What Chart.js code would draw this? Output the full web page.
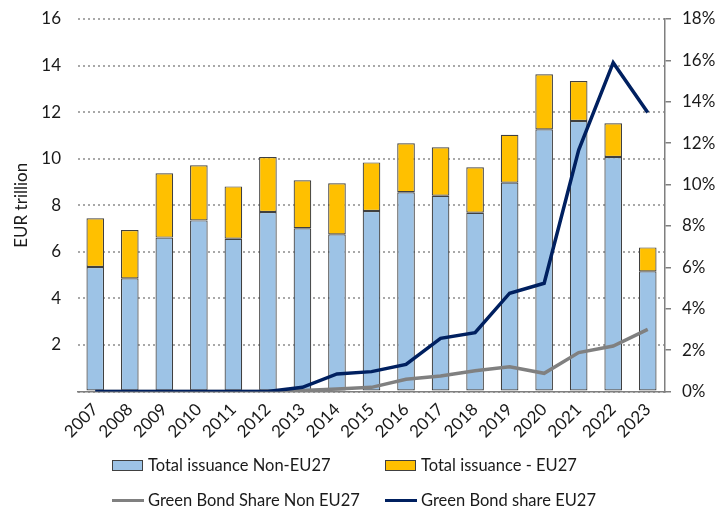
<!DOCTYPE html>
<html>
<head>
<meta charset="utf-8">
<script src="https://cdn.jsdelivr.net/npm/chart.js@4.4.0/dist/chart.umd.min.js"></script>
<style>
    html, body { margin: 0; padding: 0; background: #ffffff; }
    #wrap { position: relative; width: 716px; height: 509px; font-family: Lato, sans-serif; color: #1a1a1a; }
    #issuanceChart { position: absolute; left: 0; top: 0; }
    #legend .item { position: absolute; display: flex; align-items: center; height: 22px; font-size: 16.5px; white-space: nowrap; }
    #legend .swatch { width: 31px; height: 11px; margin-right: 5px; box-sizing: border-box; border: 1px solid #404040; }
    #legend .line { width: 32px; height: 3px; margin-right: 4px; }
</style>
</head>
<body>
<div id="wrap">
    <canvas id="issuanceChart" width="716" height="509"></canvas>
    <div id="legend"></div>
</div>
<script>
// Years on the x axis
const years = ['2007', '2008', '2009', '2010', '2011', '2012', '2013', '2014', '2015',
               '2016', '2017', '2018', '2019', '2020', '2021', '2022', '2023'];

// Issuance, EUR trillion (stacked bars)
const nonEuIssuance = [5.35, 4.86, 6.61, 7.35, 6.56, 7.71, 7.01, 6.75, 7.75,
                       8.56, 8.41, 7.68, 8.97, 11.26, 11.62, 10.07, 5.16];
const euIssuance = [2.09, 2.08, 2.76, 2.37, 2.25, 2.36, 2.06, 2.19, 2.09,
                    2.10, 2.08, 1.95, 2.06, 2.37, 1.72, 1.45, 1.03];

// Green bond share, % (right axis)
const greenShareNonEu = [0, 0, 0, 0, 0, 0, 0.05, 0.12, 0.2,
                         0.59, 0.75, 1.0, 1.2, 0.88, 1.88, 2.2, 3.0];
const greenShareEu = [0, 0, 0, 0, 0, 0, 0.2, 0.85, 0.96,
                      1.31, 2.57, 2.84, 4.75, 5.23, 11.67, 15.89, 13.48];

const seriesNames = ['Total issuance Non-EU27', 'Total issuance - EU27',
                     'Green Bond Share Non EU27', 'Green Bond share EU27'];

const leftAxis = { min: 0, max: 16, step: 2, title: 'EUR trillion' };
const rightAxis = { min: 0, max: 18, step: 2 };

const tickFont = { family: 'Lato, sans-serif', size: 17 };
const textColor = '#1a1a1a';

let issuanceChart = null;

function createIssuanceChart() {
    const ctx = document.getElementById('issuanceChart').getContext('2d');

    issuanceChart = new Chart(ctx, {
        type: 'bar',
        data: {
            labels: years,
            datasets: [
                {
                    label: seriesNames[2],
                    type: 'line',
                    data: greenShareNonEu,
                    yAxisID: 'y1',
                    borderColor: '#808080',
                    borderWidth: 3.5,
                    pointRadius: 0,
                    tension: 0,
                    order: 2
                },
                {
                    label: seriesNames[3],
                    type: 'line',
                    data: greenShareEu,
                    yAxisID: 'y1',
                    borderColor: '#002060',
                    borderWidth: 3.5,
                    pointRadius: 0,
                    tension: 0,
                    order: 1
                },
                {
                    label: seriesNames[0],
                    data: nonEuIssuance,
                    backgroundColor: '#9dc3e6',
                    borderColor: '#404040',
                    borderWidth: 1.2,
                    borderSkipped: false,
                    stack: 'issuance',
                    order: 3
                },
                {
                    label: seriesNames[1],
                    data: euIssuance,
                    backgroundColor: '#ffc000',
                    borderColor: '#404040',
                    borderWidth: 1.2,
                    borderSkipped: false,
                    stack: 'issuance',
                    order: 3
                }
            ]
        },
        options: {
            responsive: false,
            animation: false,
            layout: { padding: { top: 19, left: 0, right: 0, bottom: 0 } },
            datasets: {
                bar: { categoryPercentage: 0.51, barPercentage: 1 }
            },
            scales: {
                x: {
                    stacked: true,
                    grid: { display: false },
                    border: { display: true, color: '#7f7f7f', width: 1.5 },
                    ticks: {
                        color: textColor,
                        font: tickFont,
                        minRotation: 45,
                        maxRotation: 45,
                        padding: 0
                    },
                    afterFit: function(scale) { scale.height = 117.5; }
                },
                y: {
                    stacked: true,
                    position: 'left',
                    min: leftAxis.min,
                    max: leftAxis.max,
                    // in v4 the dash of the gridlines comes from border.dash
                    border: { display: false, dash: [2, 3] },
                    grid: {
                        color: '#a8a8a8',
                        lineWidth: 2,
                        drawTicks: false
                    },
                    ticks: {
                        stepSize: leftAxis.step,
                        color: textColor,
                        font: tickFont,
                        padding: 17,
                        callback: function(v) { return v === 0 ? '' : v; }
                    },
                    title: {
                        display: true,
                        text: leftAxis.title,
                        color: textColor,
                        font: { family: 'Lato, sans-serif', size: 17 },
                        padding: { top: 11, bottom: 0 }
                    },
                    afterFit: function(scale) {
                        scale.width = 78;
                        // tick padding would otherwise push the plot down
                        scale.paddingTop = 0;
                        scale.paddingBottom = 0;
                    }
                },
                y1: {
                    position: 'right',
                    min: rightAxis.min,
                    max: rightAxis.max,
                    border: { display: true, color: '#7f7f7f', width: 1.5 },
                    grid: {
                        drawOnChartArea: false,
                        drawTicks: true,
                        tickLength: 6,
                        color: '#7f7f7f',
                        lineWidth: 1.5
                    },
                    ticks: {
                        stepSize: rightAxis.step,
                        color: textColor,
                        font: tickFont,
                        padding: 11,
                        callback: function(v) { return v + '%'; }
                    },
                    afterFit: function(scale) {
                        scale.width = 51;
                        scale.paddingTop = 0;
                        scale.paddingBottom = 0;
                    }
                }
            },
            plugins: {
                legend: { display: false },
                tooltip: { enabled: false }
            }
        }
    });
}

// Two-column legend under the chart, built from the datasets
function buildLegend() {
    const legend = document.getElementById('legend');
    const slots = [
        { name: seriesNames[0], left: 112, top: 454 },
        { name: seriesNames[1], left: 385, top: 454 },
        { name: seriesNames[2], left: 112, top: 489 },
        { name: seriesNames[3], left: 385, top: 489 }
    ];
    slots.forEach(function(slot) {
        const ds = issuanceChart.data.datasets.find(d => d.label === slot.name);
        const item = document.createElement('div');
        item.className = 'item';
        item.style.left = slot.left + 'px';
        item.style.top = slot.top + 'px';

        const mark = document.createElement('span');
        if (ds.type === 'line') {
            mark.className = 'line';
            mark.style.background = ds.borderColor;
        } else {
            mark.className = 'swatch';
            mark.style.background = ds.backgroundColor;
        }
        const text = document.createElement('span');
        text.textContent = ds.label;

        item.appendChild(mark);
        item.appendChild(text);
        legend.appendChild(item);
    });
}

createIssuanceChart();
buildLegend();
</script>
</body>
</html>
